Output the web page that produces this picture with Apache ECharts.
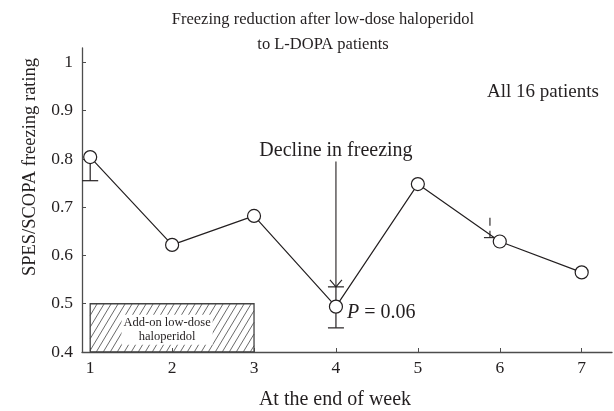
<!DOCTYPE html>
<html>
<head>
<meta charset="utf-8">
<script src="https://cdn.jsdelivr.net/npm/echarts@6/dist/echarts.min.js"></script>
<style>
  html, body { margin: 0; padding: 0; background: #fff; }
  #chart { width: 614px; height: 411px; }
</style>
</head>
<body>
<div id="chart"></div>
<script>
  // data
  const weeks = [1, 2, 3, 4, 5, 6, 7];
  const rating = [0.804, 0.622, 0.682, 0.494, 0.748, 0.629, 0.565];
  const yTicks = [0.4, 0.5, 0.6, 0.7, 0.8, 0.9, 1];
  // [week, from, to] -> cap drawn at "to"
  const errorBars = [[1, 0.804, 0.755], [4, 0.494, 0.450], [4, 0.494, 0.535]];
  const week6Mark = [[5.88, 0.678, 0.637]];
  const declineArrow = [[4, 0.795, 0.535]];
  // [fromWeek, toWeek, low, high]
  const haloperidolSpan = [[1, 3, 0.4, 0.5]];

  const serif = 'Liberation Serif';
  const ink = '#231f20';

  let myChart = echarts.init(document.getElementById('chart'));

  function capLine(x, y, half, style) {
    return { type: 'line', shape: { x1: x - half, y1: y, x2: x + half, y2: y }, style: style };
  }

  let option = {
    animation: false,
    title: {
      text: 'Freezing reduction after low-dose haloperidol\nto L-DOPA patients',
      left: 318,
      top: 2,
      textAlign: 'center',
      textStyle: { fontFamily: serif, fontSize: 16.5, fontWeight: 'normal', color: ink, lineHeight: 25 }
    },
    grid: { left: 82, right: 2, top: 48, bottom: 59 },
    xAxis: {
      type: 'value',
      min: 0.9,
      max: 7.37,
      axisLine: { lineStyle: { color: '#4d4d4d', width: 1.3 } },
      axisTick: { inside: true, length: 4, customValues: weeks, lineStyle: { color: '#4d4d4d' } },
      axisLabel: { customValues: weeks, fontFamily: serif, fontSize: 17.5, color: ink, margin: 7 },
      splitLine: { show: false }
    },
    yAxis: {
      type: 'value',
      min: 0.4,
      max: 1.03,
      axisLine: { show: true, lineStyle: { color: '#4d4d4d', width: 1.3 } },
      axisTick: { show: true, inside: true, length: 4, customValues: yTicks, lineStyle: { color: '#4d4d4d' } },
      axisLabel: { customValues: yTicks, fontFamily: serif, fontSize: 17.5, color: ink, margin: 9 },
      splitLine: { show: false }
    },
    graphic: [
      { type: 'text', left: 487, top: 83, style: { text: 'All 16 patients', font: '19px ' + serif, fill: ink } },
      { type: 'text', x: 30, y: 167, rotation: Math.PI / 2,
        style: { text: 'SPES/SCOPA freezing rating', font: '18.5px ' + serif, fill: ink, align: 'center', verticalAlign: 'middle' } },
      { type: 'text', x: 335, y: 400,
        style: { text: 'At the end of week', font: '20px ' + serif, fill: ink, align: 'center', verticalAlign: 'middle' } }
    ],
    series: [
      {
        // hatched box for the add-on period
        type: 'custom',
        z: 1,
        data: haloperidolSpan,
        encode: { x: [0, 1], y: [2, 3] },
        renderItem: function (params, api) {
          let tl = api.coord([api.value(0), api.value(3)]);
          let br = api.coord([api.value(1), api.value(2)]);
          let w = br[0] - tl[0], h = br[1] - tl[1];
          let run = h * 0.6, step = 7;
          let children = [];
          for (let x = tl[0] - run; x < br[0]; x += step) {
            let t0 = Math.max(0, (tl[0] - x) / run);
            let t1 = Math.min(1, (br[0] - x) / run);
            if (t1 <= t0) continue;
            children.push({
              type: 'line',
              shape: { x1: x + t0 * run, y1: br[1] - t0 * h, x2: x + t1 * run, y2: br[1] - t1 * h },
              style: { stroke: '#444', lineWidth: 0.8 }
            });
          }
          children.push({
            type: 'rect',
            shape: { x: tl[0], y: tl[1], width: w, height: h },
            style: { fill: 'none', stroke: '#444', lineWidth: 1.3 }
          });
          children.push({
            type: 'text',
            x: tl[0] + w / 2 - 5,
            y: tl[1] + h / 2 + 2,
            style: {
              text: 'Add-on low-dose\nhaloperidol',
              font: '12.5px ' + serif, fill: ink, lineHeight: 14,
              align: 'center', verticalAlign: 'middle',
              backgroundColor: '#fff', padding: [1, 2]
            }
          });
          return { type: 'group', children: children };
        }
      },
      {
        // error bars
        type: 'custom',
        z: 2,
        data: errorBars,
        encode: { x: 0, y: [1, 2] },
        renderItem: function (params, api) {
          let a = api.coord([api.value(0), api.value(1)]);
          let b = api.coord([api.value(0), api.value(2)]);
          let st = { stroke: ink, lineWidth: 1.2 };
          return {
            type: 'group',
            children: [
              { type: 'line', shape: { x1: a[0], y1: a[1], x2: b[0], y2: b[1] }, style: st },
              capLine(b[0], b[1], 8, st)
            ]
          };
        }
      },
      {
        // odd dashed mark near week 6
        type: 'custom',
        z: 2,
        data: week6Mark,
        encode: { x: 0, y: [1, 2] },
        renderItem: function (params, api) {
          let a = api.coord([api.value(0), api.value(1)]);
          let b = api.coord([api.value(0), api.value(2)]);
          return {
            type: 'group',
            children: [
              { type: 'line', shape: { x1: a[0], y1: a[1], x2: b[0], y2: b[1] },
                style: { stroke: ink, lineWidth: 1.1, lineDash: [8, 5] } },
              capLine(b[0], b[1], 6, { stroke: ink, lineWidth: 1.1 })
            ]
          };
        }
      },
      {
        // "Decline in freezing" arrow
        type: 'custom',
        z: 2,
        data: declineArrow,
        encode: { x: 0, y: [1, 2] },
        renderItem: function (params, api) {
          let a = api.coord([api.value(0), api.value(1)]);
          let b = api.coord([api.value(0), api.value(2)]);
          let st = { stroke: ink, lineWidth: 1.1 };
          return {
            type: 'group',
            children: [
              { type: 'line', shape: { x1: a[0], y1: a[1], x2: b[0], y2: b[1] }, style: st },
              { type: 'line', shape: { x1: b[0] - 6, y1: b[1] - 7, x2: b[0], y2: b[1] }, style: st },
              { type: 'line', shape: { x1: b[0] + 6, y1: b[1] - 7, x2: b[0], y2: b[1] }, style: st },
              { type: 'text', x: a[0], y: a[1] - 1,
                style: { text: 'Decline in freezing', font: '20px ' + serif, fill: ink, align: 'center', verticalAlign: 'bottom' } }
            ]
          };
        }
      },
      {
        name: 'rating',
        type: 'line',
        z: 5,
        symbol: 'circle',
        symbolSize: 13,
        itemStyle: { color: '#fff', borderColor: ink, borderWidth: 1.2 },
        lineStyle: { color: ink, width: 1.2 },
        data: weeks.map(function (w, i) {
          let item = { value: [w, rating[i]] };
          if (w === 4) {
            item.label = {
              show: true, position: 'right', distance: 4, offset: [0, 6],
              formatter: '{i|P} = 0.06',
              fontFamily: serif, fontSize: 20, color: ink,
              rich: { i: { fontStyle: 'italic', fontFamily: serif, fontSize: 20, color: ink } }
            };
          }
          return item;
        })
      }
    ]
  };
  myChart.setOption(option);
  window.addEventListener('resize', function () { myChart.resize() });
</script>
</body>
</html>
